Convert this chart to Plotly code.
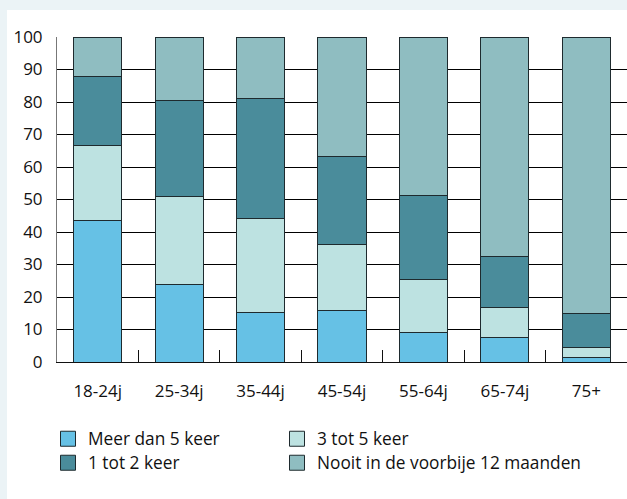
import plotly.graph_objects as go

leeftijd = ["18-24j", "25-34j", "35-44j", "45-54j", "55-64j", "65-74j", "75+"]

meer_dan_5 = [43.5, 23.9, 15.3, 15.9, 9.2, 7.6, 1.4]
drie_tot_5 = [23.2, 27.1, 28.9, 20.3, 16.2, 9.2, 3.2]
een_tot_2 = [21.2, 29.5, 36.8, 27.1, 25.9, 15.7, 10.3]
nooit = [12.1, 19.5, 19.0, 36.7, 48.7, 67.5, 85.1]

namen = ["Meer dan 5 keer", "3 tot 5 keer", "1 tot 2 keer", "Nooit in de voorbije 12 maanden"]
kleuren = ["#66c1e5", "#bde2e1", "#4a8c9b", "#8fbdc1"]
waarden = [meer_dan_5, drie_tot_5, een_tot_2, nooit]

W, H = 627, 499
L, R, T, B = 57, 0, 37, 137
pw, ph = W - L - R, H - T - B
rand = "#1e2a2e"

fig = go.Figure()
for name, vals, col in zip(namen, waarden, kleuren):
    fig.add_trace(go.Bar(
        x=leeftijd, y=vals, name=name, legendgroup=name, showlegend=False,
        marker=dict(color=col, line=dict(color=rand, width=1)),
    ))

# legenda: een eigen legend per item, zodat de posities overeenkomen
legend_pos = [(48, 439), (277, 439), (48, 463), (277, 463)]
layout_legends = {}
for i, (name, col) in enumerate(zip(namen, kleuren)):
    key = "legend" if i == 0 else f"legend{i + 1}"
    fig.add_trace(go.Scatter(
        x=[None], y=[None], name=name, legendgroup=name, legend=key,
        mode="markers",
        marker=dict(symbol="square", size=15, color=col, line=dict(color=rand, width=1)),
    ))
    lx, ly = legend_pos[i]
    layout_legends[key] = dict(
        x=(lx - L) / pw, xanchor="left", y=(362 - ly) / ph, yanchor="middle",
        font=dict(size=17.3), bgcolor="rgba(0,0,0,0)",
    )

fig.update_layout(
    width=W, height=H,
    margin=dict(l=L, r=R, t=T, b=B),
    barmode="stack", bargap=0.41,
    paper_bgcolor="#ebf3f6", plot_bgcolor="white",
    font=dict(family="Open Sans, sans-serif", size=16, color="#111"),
    xaxis=dict(
        showline=True, linecolor="#111", linewidth=1,
        ticks="inside", ticklen=12, tickcolor="#111", tickson="boundaries",
        showgrid=False, ticklabelstandoff=14, tickfont=dict(size=17),
    ),
    yaxis=dict(
        range=[0, 100], dtick=10, showgrid=True, gridcolor="#000", gridwidth=1,
        showline=True, linecolor="#777", linewidth=1, zeroline=False,
        ticks="", ticklabelstandoff=10, tickfont=dict(size=17),
    ),
    shapes=[dict(
        type="rect", xref="paper", yref="paper", layer="below",
        x0=(7 - L) / pw, x1=1.01, y0=-B / ph - 0.01, y1=1 + (T - 10) / ph,
        fillcolor="white", line=dict(width=0),
    )],
    **layout_legends,
)

fig.write_html(
    "out.html",
    config={"displayModeBar": False},
    post_script="document.body.style.margin='0';",
)
